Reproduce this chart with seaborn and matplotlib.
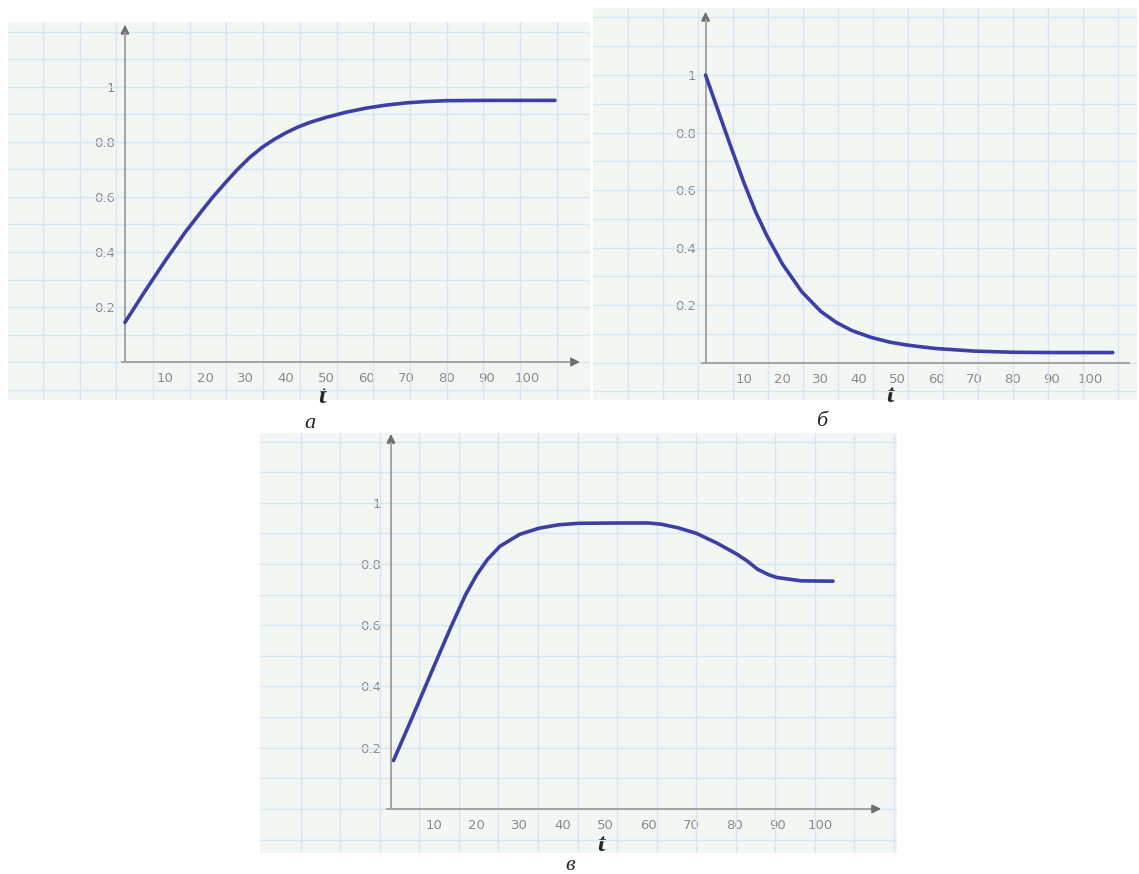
import numpy as np
import matplotlib
matplotlib.use("Agg")
import matplotlib.pyplot as plt
import seaborn as sns

# panel a - rising curve
t_a = [0, 5, 10, 15, 20, 22, 25, 28, 31, 34, 37, 40, 43, 46, 50, 55, 60, 65, 70, 75, 80, 90, 100, 107]
v_a = [0.144, 0.258, 0.368, 0.472, 0.566, 0.602, 0.652, 0.700, 0.743, 0.779, 0.808, 0.833,
       0.854, 0.871, 0.889, 0.908, 0.923, 0.934, 0.942, 0.947, 0.950, 0.951, 0.951, 0.951]

# panel b - decaying curve
t_b = [0, 5, 7, 10, 13, 16, 20, 25, 30, 34, 38, 43, 48, 52, 56, 60, 70, 80, 90, 100, 106]
v_b = [1.0, 0.81, 0.735, 0.625, 0.525, 0.44, 0.343, 0.247, 0.178, 0.140, 0.112, 0.088,
       0.071, 0.062, 0.055, 0.049, 0.040, 0.036, 0.035, 0.035, 0.035]

# panel c - rise, plateau, drop
t_c = [0.6, 5, 10, 14, 17.4, 20, 22.5, 25.4, 30, 34.5, 39, 43.8, 52.7, 60, 63, 67, 71.2,
       76, 80.5, 83, 85.4, 88, 89.9, 95.6, 103]
v_c = [0.158, 0.30, 0.465, 0.595, 0.70, 0.765, 0.815, 0.858, 0.897, 0.917, 0.928, 0.933, 0.934,
       0.934, 0.930, 0.918, 0.90, 0.868, 0.833, 0.810, 0.783, 0.765, 0.756, 0.745, 0.744]

x_ticks = [10, 20, 30, 40, 50, 60, 70, 80, 90, 100]
y_ticks = [0.2, 0.4, 0.6, 0.8, 1.0]
y_tick_labels = ["0.2", "0.4", "0.6", "0.8", "1"]
panel_letters = ["а", "б", "в"]

sns.set_style("white")
plt.rcParams["font.family"] = ["DejaVu Sans"]

W, H = 1139, 874
fig = plt.figure(figsize=(W / 100, H / 100), dpi=100)

AXIS_COL = "#a3a3a3"
HEAD_COL = "#6f6f6f"
LINE_COL = "#3b3fa6"


def px_rect(x0, y0, x1, y1):
    return [x0 / W, 1 - y1 / H, (x1 - x0) / W, (y1 - y0) / H]


def draw_panel(rect, t, v, xlim, ylim, arrow_x, arrow_y, grid_x0, grid_dx, tlabel_xy):
    ax = fig.add_axes(rect)
    ax.set_facecolor("#f3f7f4")

    sns.lineplot(x=t, y=v, ax=ax, color=LINE_COL, linewidth=2.6, zorder=5)

    ax.set_xlim(*xlim)
    ax.set_ylim(*ylim)
    ax.set_xticks(x_ticks)
    ax.set_yticks(y_ticks, labels=y_tick_labels)

    # graph paper grid
    ax.xaxis.remove_overlapping_locs = False
    ax.yaxis.remove_overlapping_locs = False
    ax.set_xticks(np.arange(grid_x0, xlim[1], grid_dx), minor=True)
    ax.set_yticks(np.arange(-0.1, 1.25, 0.1), minor=True)
    ax.grid(which="minor", color="#d5e6f4", lw=1.0)
    ax.grid(which="major", visible=False)

    for s in ["top", "right"]:
        ax.spines[s].set_visible(False)
    ax.spines["left"].set_position(("data", 0))
    ax.spines["bottom"].set_position(("data", 0))
    ax.spines["left"].set_bounds(0, arrow_y)
    ax.spines["bottom"].set_bounds(-0.8, arrow_x)
    for s in ["left", "bottom"]:
        ax.spines[s].set_color(AXIS_COL)
        ax.spines[s].set_linewidth(1.4)
        ax.spines[s].set_zorder(3)

    # arrow heads
    ax.annotate("", xy=(arrow_x + 2.5, 0), xytext=(arrow_x, 0),
                arrowprops=dict(arrowstyle="-|>", color=HEAD_COL, lw=1.2,
                                mutation_scale=13, shrinkA=0, shrinkB=0))
    ax.annotate("", xy=(0, arrow_y + 0.03), xytext=(0, arrow_y),
                arrowprops=dict(arrowstyle="-|>", color=HEAD_COL, lw=1.2,
                                mutation_scale=13, shrinkA=0, shrinkB=0))

    ax.tick_params(axis="x", which="major", direction="inout", length=7, width=1.2,
                   color=AXIS_COL, labelcolor="#8a8a8a", labelsize=9.5, pad=4)
    ax.tick_params(axis="y", which="major", direction="out", length=5, width=1.2,
                   color=AXIS_COL, labelcolor="#8a8a8a", labelsize=9.5, pad=2)
    ax.tick_params(which="minor", length=0)

    ax.set_xlabel("t", fontsize=19, fontweight="bold", fontstyle="italic",
                  family=["Liberation Serif", "DejaVu Serif"])
    ax.xaxis.set_label_coords(*tlabel_xy)
    ax.xaxis.label.set_va("baseline")
    ax.set_ylabel("")
    return ax


draw_panel(px_rect(8, 22, 590, 400), t_a, v_a, (-29.1, 115.7), (-0.138, 1.236),
           110.7, 1.196, -20.4, 9.13, (0.54, -0.008))
draw_panel(px_rect(593, 8, 1137, 400), t_b, v_b, (-29.3, 112.3), (-0.130, 1.233),
           110.3, 1.19, -20.2, 9.11, (0.546, -0.005))
draw_panel(px_rect(260, 433, 897, 853), t_c, v_c, (-30.5, 117.9), (-0.144, 1.228),
           111.7, 1.195, -21.0, 9.21, (0.535, 0.005))

letter_pos = [(310, 428), (822, 426), (570, 870)]
for letter, (lx, ly) in zip(panel_letters, letter_pos):
    fig.text(lx / W, 1 - ly / H, letter, fontsize=16, fontstyle="italic",
             family=["Liberation Serif", "DejaVu Serif"], ha="center", va="baseline")

fig.savefig("out.png", dpi=100, facecolor="white")
plt.close()
